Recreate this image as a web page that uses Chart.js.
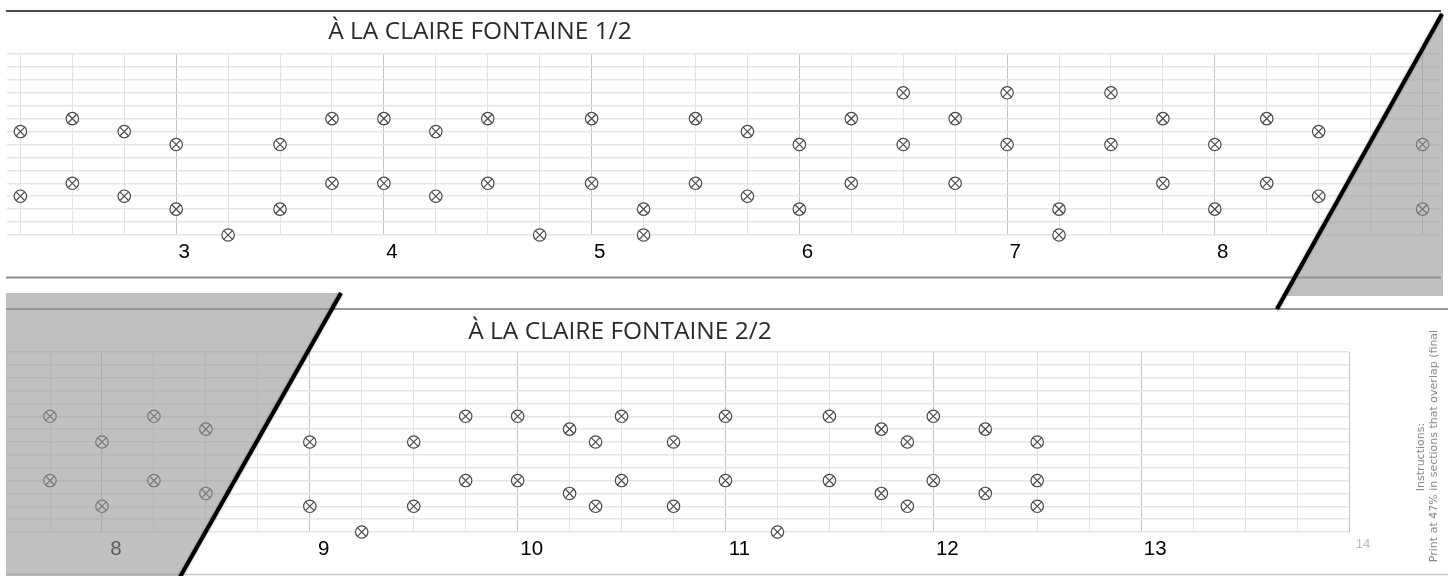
<!DOCTYPE html>
<html>
<head>
<meta charset="utf-8">
<script src="https://cdn.jsdelivr.net/npm/chart.js@4.4.0/dist/chart.umd.min.js"></script>
<style>
  html, body { margin: 0; padding: 0; background: #fff; }
  #sheet { position: relative; width: 1448px; height: 576px; overflow: hidden; }
  #sheet canvas { position: absolute; left: 0; top: 0; }
</style>
</head>
<body>
<div id="sheet">
  <canvas id="part1" width="1448" height="576"></canvas>
  <canvas id="part2" width="1448" height="576"></canvas>
</div>
<script>
// --- Strip 1/2: hole times (beats) and pitch rows (0 = lowest line) ---
const part1Time = [2.25, 2.25, 2.5, 2.5, 2.75, 2.75, 3, 3, 3.25, 3.5, 3.5, 3.75, 3.75, 4, 4,
    4.25, 4.25, 4.5, 4.5, 4.75, 5, 5, 5.25, 5.25, 5.5, 5.5, 5.75, 5.75, 6, 6, 6.25, 6.25,
    6.5, 6.5, 6.75, 6.75, 7, 7, 7.25, 7.25, 7.5, 7.5, 7.75, 7.75, 8, 8, 8.25, 8.25, 8.5, 8.5, 9, 9];
const part1Pitch = [8, 3, 9, 4, 8, 3, 7, 2, 0, 7, 2, 9, 4, 9, 4,
    8, 3, 9, 4, 0, 9, 4, 2, 0, 9, 4, 8, 3, 7, 2, 9, 4,
    11, 7, 9, 4, 11, 7, 2, 0, 11, 7, 9, 4, 7, 2, 9, 4, 8, 3, 7, 2];
const part1Measures = [3, 4, 5, 6, 7, 8];

// --- Strip 2/2 ---
const part2Time = [7.75, 7.75, 8, 8, 8.25, 8.25, 8.5, 8.5, 9, 9, 9.25, 9.5, 9.5, 9.75, 9.75,
    10, 10, 10.25, 10.25, 10.375, 10.375, 10.5, 10.5, 10.75, 10.75, 11, 11, 11.25,
    11.5, 11.5, 11.75, 11.75, 11.875, 11.875, 12, 12, 12.25, 12.25, 12.5, 12.5, 12.5];
const part2Pitch = [9, 4, 7, 2, 9, 4, 8, 3, 7, 2, 0, 7, 2, 9, 4,
    9, 4, 8, 3, 7, 2, 9, 4, 7, 2, 9, 4, 0,
    9, 4, 8, 3, 7, 2, 9, 4, 8, 3, 7, 4, 2];
const part2Measures = [8, 9, 10, 11, 12, 13, 14];

const rowCount = 15;
const markColor = '#4a4a4a';

// --- Helpers ---
const holes = (times, pitches) => times.map((t, i) => ({ x: t, y: pitches[i] }));

function holeDatasets(points) {
    const common = {
        data: points,
        showLine: false,
        clip: false,
        pointRadius: 6.2,
        pointHoverRadius: 6.2,
        pointBorderWidth: 1.2,
        pointBorderColor: markColor,
        pointBackgroundColor: '#fff'
    };
    // circle + rotated cross = the punched "⊗" mark (dataset 0 is painted last)
    return [
        { ...common, pointStyle: 'crossRot' },
        { ...common, pointStyle: 'circle' }
    ];
}

function stripOptions(xMin, xMax, measures, padding, labelOffset) {
    return {
        responsive: false,
        animation: false,
        events: [],
        layout: { padding: padding },
        plugins: { legend: { display: false }, tooltip: { enabled: false } },
        scales: {
            x: {
                type: 'linear',
                min: xMin,
                max: xMax,
                border: { display: false },
                afterBuildTicks: (scale) => {
                    const ticks = [];
                    for (let v = Math.ceil(scale.min * 4) / 4; v <= scale.max + 1e-9; v += 0.25) {
                        ticks.push({ value: v });
                    }
                    scale.ticks = ticks;
                },
                afterFit: (scale) => { scale.height = 30; },
                grid: {
                    drawTicks: false,
                    lineWidth: 1,
                    color: (c) => Number.isInteger(c.tick.value) ? '#c4c4c4' : '#e3e3e3'
                },
                ticks: {
                    autoSkip: false,
                    maxRotation: 0,
                    padding: 5,
                    labelOffset: labelOffset,
                    color: (c) => c.tick && c.tick.value === 14 ? '#b8b8b8' : '#000',
                    font: (c) => c.tick && c.tick.value === 14
                        ? { family: 'Liberation Sans', size: 13 }
                        : { family: 'Liberation Sans', size: 20.5 },
                    callback: (v) => measures.includes(v) ? String(v) : ''
                }
            },
            y: {
                type: 'linear',
                min: 0,
                max: rowCount - 1,
                border: { display: false },
                afterFit: (scale) => { scale.width = 0; },
                ticks: { display: false, stepSize: 1 },
                grid: { drawTicks: false, color: '#e5e5e5', lineWidth: 1.5 }
            }
        }
    };
}

function hLine(ctx, x1, x2, y, color, width) {
    ctx.save();
    ctx.strokeStyle = color;
    ctx.lineWidth = width;
    ctx.beginPath();
    ctx.moveTo(x1, y);
    ctx.lineTo(x2, y);
    ctx.stroke();
    ctx.restore();
}

function drawTitle(ctx, text, x, y) {
    ctx.save();
    ctx.fillStyle = '#2b2b2b';
    ctx.font = '24.5px "Open Sans"';
    ctx.textAlign = 'center';
    ctx.textBaseline = 'middle';
    ctx.fillText(text, x, y);
    ctx.restore();
}

// --- Strip 1/2 chart ---
const part1Decor = {
    id: 'part1Decor',
    beforeDraw(chart) {
        const ctx = chart.ctx;
        hLine(ctx, 6, 1441, 11, '#4a4a4a', 2);
        hLine(ctx, 6, 1441, 277.5, '#8c8c8c', 2);
        drawTitle(ctx, 'À LA CLAIRE FONTAINE 1/2', 480, 32);
    }
};

new Chart(document.getElementById('part1'), {
    type: 'scatter',
    data: { datasets: holeDatasets(holes(part1Time, part1Pitch)) },
    options: stripOptions(2.1875, 9.087, part1Measures, { top: 54, bottom: 311, left: 6, right: 7 }, 8),
    plugins: [part1Decor]
});

// --- Strip 2/2 chart (on top, carries the overlap shading) ---
const part2Decor = {
    id: 'part2Decor',
    beforeDraw(chart) {
        const ctx = chart.ctx;
        hLine(ctx, 6, 1448, 309, '#333', 1.2);
        hLine(ctx, 6, 1448, 574.5, '#c8c8c8', 1.5);
        drawTitle(ctx, 'À LA CLAIRE FONTAINE 2/2', 620, 332);

        // rotated instructions at the right edge
        const lines = [
            ['Instructions:', 1421, 457],
            ['Print at 47% in sections that overlap (final', 1434, 446]
        ];
        lines.forEach(([text, x, y]) => {
            ctx.save();
            ctx.fillStyle = '#8a8a8a';
            ctx.font = '11px "DejaVu Sans"';
            ctx.textAlign = 'center';
            ctx.textBaseline = 'middle';
            ctx.translate(x, y);
            ctx.rotate(-Math.PI / 2);
            ctx.fillText(text, 0, 0);
            ctx.restore();
        });
    },
    afterDraw(chart) {
        const ctx = chart.ctx;
        ctx.save();
        // grey overlap areas
        ctx.fillStyle = 'rgba(150,150,150,0.6)';
        ctx.beginPath();
        ctx.moveTo(1441, 13);
        ctx.lineTo(1443, 13);
        ctx.lineTo(1443, 296);
        ctx.lineTo(1284, 296);
        ctx.closePath();
        ctx.fill();
        ctx.beginPath();
        ctx.moveTo(6, 293);
        ctx.lineTo(340, 293);
        ctx.lineTo(180, 576);
        ctx.lineTo(6, 576);
        ctx.closePath();
        ctx.fill();
        // cut lines
        ctx.strokeStyle = '#000';
        ctx.lineWidth = 4;
        ctx.shadowColor = 'rgba(0,0,0,0.5)';
        ctx.shadowBlur = 2;
        ctx.beginPath();
        ctx.moveTo(1277, 309);
        ctx.lineTo(1442, 14);
        ctx.stroke();
        ctx.beginPath();
        ctx.moveTo(341, 293);
        ctx.lineTo(180, 577);
        ctx.stroke();
        ctx.restore();
    }
};

new Chart(document.getElementById('part2'), {
    type: 'scatter',
    data: { datasets: holeDatasets(holes(part2Time, part2Pitch)) },
    options: stripOptions(7.545, 14, part2Measures, { top: 352, bottom: 14, left: 6, right: 99 }, 14),
    plugins: [part2Decor]
});
</script>
</body>
</html>
